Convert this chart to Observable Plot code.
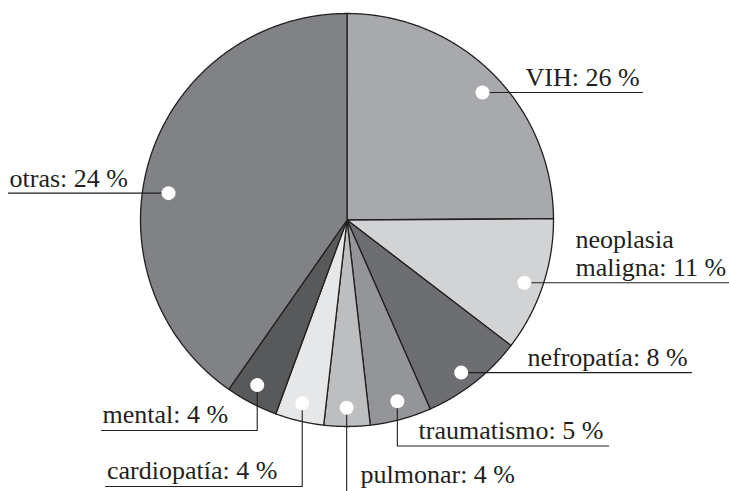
<!DOCTYPE html>
<html>
<head>
<meta charset="utf-8">
<script src="https://cdn.jsdelivr.net/npm/d3@7"></script>
<script src="https://cdn.jsdelivr.net/npm/@observablehq/plot@0.6"></script>
<style>
  html, body { margin: 0; padding: 0; background: #fff; }
  #chart svg text, #chart svg tspan { font-family: "Liberation Serif", "DejaVu Serif", "Times New Roman", serif !important; }
</style>
</head>
<body>
<div id="chart"></div>
<script>
// ---- data ----
const categories = ["VIH", "neoplasia maligna", "nefropatía", "traumatismo", "pulmonar", "cardiopatía", "mental", "otras"];
const categoryLines = ["VIH", "neoplasia\nmaligna", "nefropatía", "traumatismo", "pulmonar", "cardiopatía", "mental", "otras"];
const labelPercents = [26, 11, 8, 5, 4, 4, 4, 24];          // printed in the labels
const drawnShares   = [24.9, 10.5, 8.0, 4.8, 3.6, 3.8, 4.1, 40.3]; // slice sizes as drawn (% of circle)
const sliceColors   = ["#a7a9ac", "#d1d3d4", "#6d6e71", "#939598", "#bcbec0", "#e6e7e8", "#58595b", "#808285"];

// ---- layout ----
const W = 729, H = 491;
const CX = 346.5, CY = 219.5, R = 206.5;
const INK = "#231f20";
const SERIF = "'Liberation Serif', 'DejaVu Serif', serif";
const labelLayout = [
  {kind: "h", nudge: 1.9,  rho: 0.901, textX: 525,   lineEnd: 642},
  {kind: "h", nudge: 0.95, rho: 0.911, textX: 575,   lineEnd: 729},
  {kind: "h", nudge: 1.35, rho: 0.923, textX: 527,   lineEnd: 691},
  {kind: "v", nudge: -0.4, rho: 0.911, textX: 418,   lineY: 445.5, lineEnd: 608},
  {kind: "v", nudge: 0.1,  rho: 0.909, textX: 360,   lineY: 490,   lineEnd: null},
  {kind: "v", nudge: 0.4,  rho: 0.914, textX: 106.5, lineY: 486,   lineEnd: 105},
  {kind: "v", nudge: 1.0,  rho: 0.910, textX: 102,   lineY: 430,   lineEnd: 101},
  {kind: "h", nudge: -8.9, rho: 0.874, textX: 9,     lineEnd: 8}
];

const table = categories.map((c, i) => ({
  cat: c, lines: categoryLines[i], pct: labelPercents[i], share: drawnShares[i], color: sliceColors[i], layout: labelLayout[i]
}));

const arcs = d3.pie().sort(null).value(d => d.share)(table);
const px = (a, r) => CX + r * Math.sin(a);
const py = (a, r) => CY - r * Math.cos(a);

const slices = arcs.map(a => {
  const pts = [{x: CX, y: CY}];
  const n = Math.max(2, Math.ceil((a.endAngle - a.startAngle) / (Math.PI / 720)));
  for (let k = 0; k <= n; k++) {
    const t = a.startAngle + (a.endAngle - a.startAngle) * k / n;
    pts.push({x: px(t, R), y: py(t, R)});
  }
  pts.push({x: CX, y: CY});
  return {color: a.data.color, points: pts};
});

const dots = [], leaders = [], labels = [];
arcs.forEach(a => {
  const L = a.data.layout;
  const mid = (a.startAngle + a.endAngle) / 2 + L.nudge * Math.PI / 180;
  const dx = px(mid, L.rho * R), dy = py(mid, L.rho * R);
  dots.push({x: dx, y: dy});
  const text = `${a.data.lines}: ${a.data.pct} %`;
  if (L.kind === "h") {
    leaders.push({cat: a.data.cat, x: dx, y: dy}, {cat: a.data.cat, x: L.lineEnd, y: dy});
    labels.push({x: L.textX, y: dy - 6.5, text});
  } else {
    leaders.push({cat: a.data.cat, x: dx, y: dy});
    if (L.lineEnd == null) {
      leaders.push({cat: a.data.cat, x: dx, y: H + 2});
    } else {
      leaders.push({cat: a.data.cat, x: dx, y: L.lineY}, {cat: a.data.cat, x: L.lineEnd, y: L.lineY});
    }
    labels.push({x: L.textX, y: L.lineY - 7.5, text});
  }
});

const chart = Plot.plot({
  width: W,
  height: H,
  marginTop: 0, marginRight: 0, marginBottom: 0, marginLeft: 0,
  x: {domain: [0, W], range: [0, W], axis: null},
  y: {domain: [0, H], range: [0, H], axis: null},
  style: {background: "white", fontFamily: SERIF},
  marks: [
    ...slices.map(s => Plot.line(s.points, {
      x: "x", y: "y", fill: s.color, stroke: INK, strokeWidth: 1.3, strokeLinejoin: "round"
    })),
    Plot.line(leaders, {x: "x", y: "y", z: "cat", stroke: INK, strokeWidth: 1.1}),
    Plot.dot(dots, {x: "x", y: "y", r: 7, fill: "white"}),
    Plot.text(labels, {
      x: "x", y: "y", text: "text", textAnchor: "start", lineAnchor: "bottom", lineHeight: 1.09,
      fontFamily: SERIF, fontSize: 26, fill: INK
    })
  ]
});
document.getElementById("chart").appendChild(chart);
</script>
</body>
</html>
